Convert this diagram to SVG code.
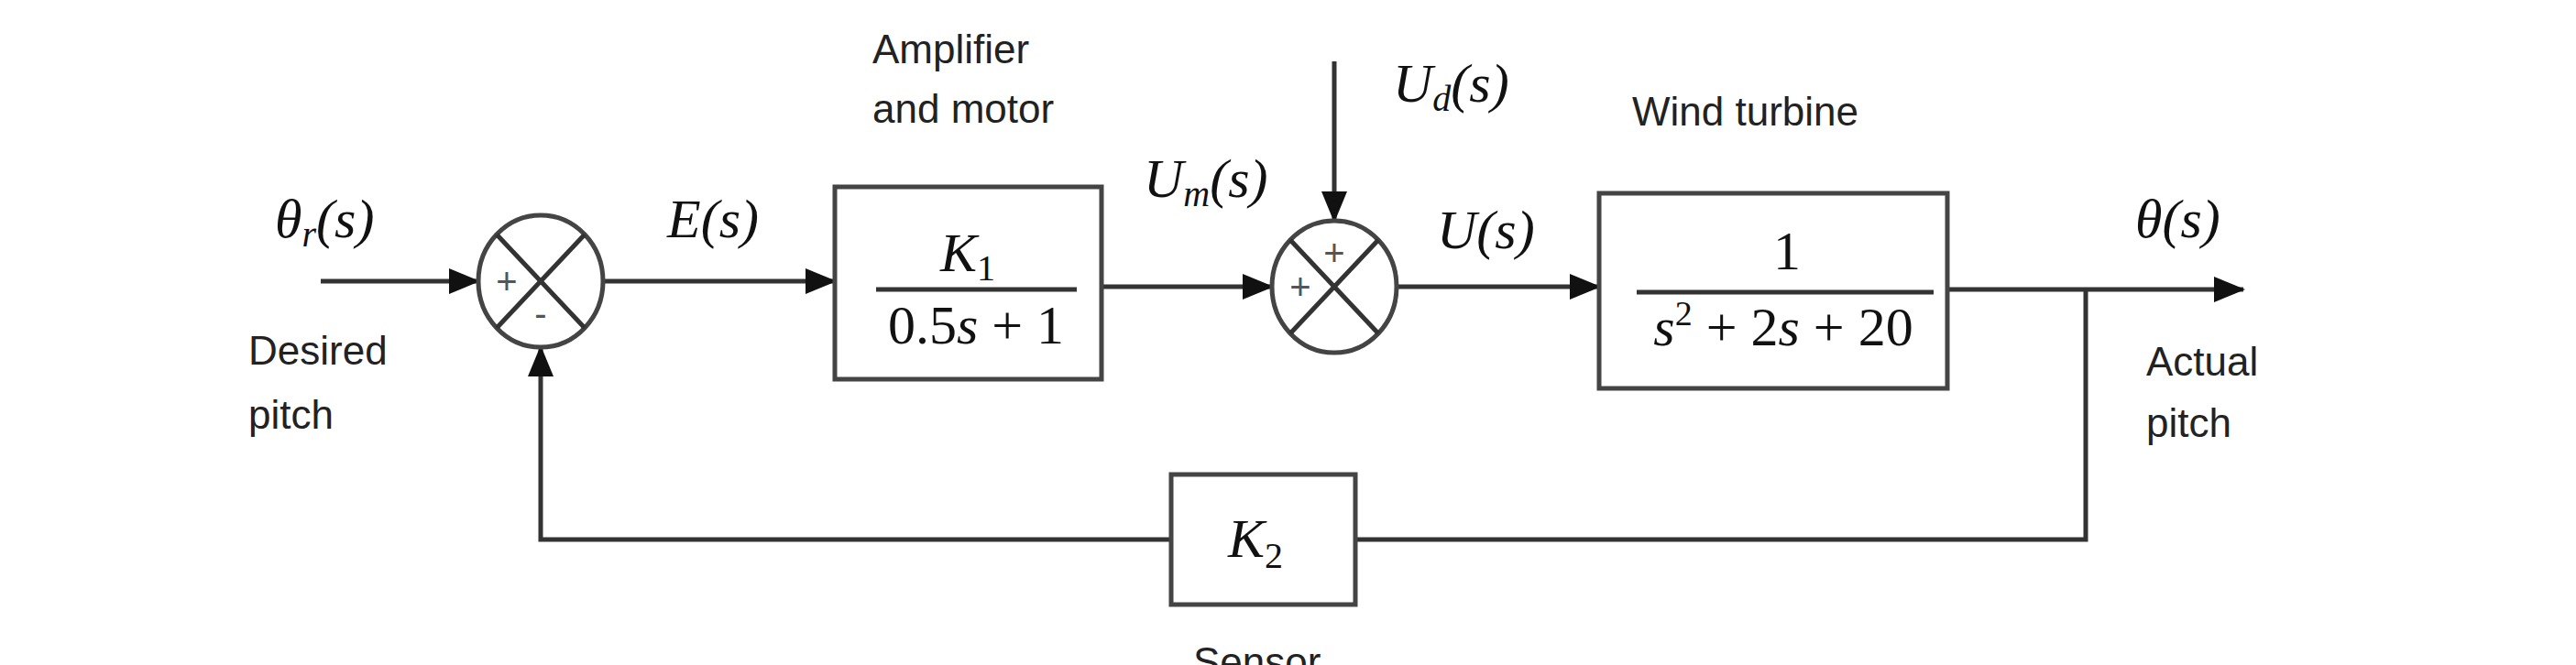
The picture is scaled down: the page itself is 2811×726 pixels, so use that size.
<svg xmlns="http://www.w3.org/2000/svg" width="2811" height="726" viewBox="0 0 2811 726">
<style>
.ln{stroke:#333;stroke-width:5;fill:none}
.bx{stroke:#444;stroke-width:5;fill:#fff}
.m{font-family:"Liberation Serif",serif;font-style:italic;font-size:60px;fill:#111}
.mn{font-family:"Liberation Serif",serif;font-size:60px;fill:#111}
.t{font-family:"Liberation Sans",sans-serif;font-size:44px;fill:#222}
.sg{font-family:"Liberation Sans",sans-serif;font-size:40px;fill:#555;text-anchor:middle}
</style>
<defs>
<marker id="ah" markerWidth="34" markerHeight="28" refX="32" refY="14" orient="auto" markerUnits="userSpaceOnUse" viewBox="0 0 34 28">
<path d="M0,0 L34,14 L0,28 z" fill="#111"/>
</marker>
</defs>
<rect width="2811" height="726" fill="#fff"/>
<g id="connectors">
<line class="ln" x1="350" y1="307" x2="522" y2="307" marker-end="url(#ah)"/>
<line class="ln" x1="660" y1="307" x2="911" y2="307" marker-end="url(#ah)"/>
<line class="ln" x1="1202" y1="313" x2="1388" y2="313" marker-end="url(#ah)"/>
<line class="ln" x1="1456" y1="67" x2="1456" y2="241" marker-end="url(#ah)"/>
<line class="ln" x1="1526" y1="313" x2="1745" y2="313" marker-end="url(#ah)"/>
<line class="ln" x1="2125" y1="316" x2="2448" y2="316" marker-end="url(#ah)"/>
<polyline class="ln" points="2276,316 2276,589 1479,589"/>
<polyline class="ln" points="1278,589 590,589 590,379" marker-end="url(#ah)"/>
</g>
<g id="sum1">
<ellipse class="bx" cx="590" cy="307" rx="68" ry="72"/>
<line class="ln" x1="542" y1="256" x2="638" y2="358"/>
<line class="ln" x1="638" y1="256" x2="542" y2="358"/>
<text class="sg" x="553" y="321">+</text>
<text class="sg" x="590" y="356">-</text>
</g>
<g id="sum2">
<ellipse class="bx" cx="1456" cy="313" rx="68" ry="72"/>
<line class="ln" x1="1408" y1="262" x2="1504" y2="364"/>
<line class="ln" x1="1504" y1="262" x2="1408" y2="364"/>
<text class="sg" x="1456" y="290">+</text>
<text class="sg" x="1419" y="327">+</text>
</g>
<g id="block1">
<rect class="bx" x="911" y="204" width="291" height="210"/>
<text class="m" x="1056" y="296" text-anchor="middle">K<tspan font-style="normal" font-size="40" dy="10">1</tspan></text>
<line class="ln" x1="956" y1="316" x2="1175" y2="316"/>
<text class="mn" x="1065" y="375" text-anchor="middle">0.5<tspan font-style="italic">s</tspan> + 1</text>
</g>
<g id="block2">
<rect class="bx" x="1745" y="211" width="380" height="213"/>
<text class="mn" x="1950" y="294" text-anchor="middle">1</text>
<line class="ln" x1="1786" y1="319" x2="2110" y2="319"/>
<text class="mn" x="1946" y="377" text-anchor="middle"><tspan font-style="italic">s</tspan><tspan font-size="38" dy="-22">2</tspan><tspan dy="22"> + 2</tspan><tspan font-style="italic">s</tspan> + 20</text>
</g>
<g id="sensor">
<rect class="bx" x="1278" y="518" width="201" height="142"/>
<text class="m" x="1370" y="608" text-anchor="middle">K<tspan font-style="normal" font-size="40" dy="12">2</tspan></text>
</g>
<g id="labels">
<text class="m" x="300" y="259">θ<tspan font-size="40" dy="10">r</tspan><tspan dy="-10">(s)</tspan></text>
<text class="m" x="728" y="259">E(s)</text>
<text class="m" x="1248" y="215">U<tspan font-size="40" dy="10">m</tspan><tspan dy="-10">(s)</tspan></text>
<text class="m" x="1520" y="111">U<tspan font-size="40" dy="10">d</tspan><tspan dy="-10">(s)</tspan></text>
<text class="m" x="1568" y="271">U(s)</text>
<text class="m" x="2330" y="259">θ(s)</text>
<text class="t" x="952" y="69">Amplifier</text>
<text class="t" x="952" y="134">and motor</text>
<text class="t" x="1781" y="137">Wind turbine</text>
<text class="t" x="271" y="398">Desired</text>
<text class="t" x="271" y="468">pitch</text>
<text class="t" x="2342" y="410">Actual</text>
<text class="t" x="2342" y="477">pitch</text>
<text class="t" x="1302" y="738">Sensor</text>
</g>
</svg>
